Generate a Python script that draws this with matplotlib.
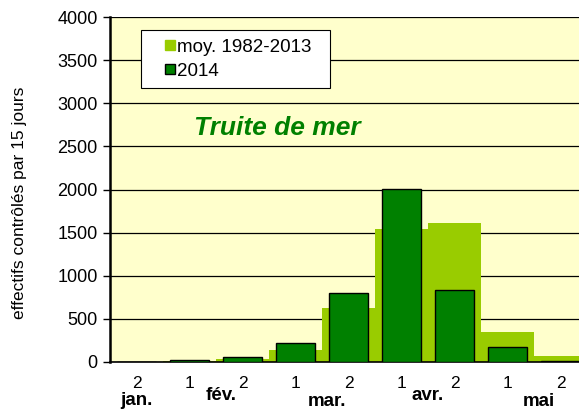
import matplotlib.pyplot as plt
from matplotlib.lines import Line2D
from matplotlib.transforms import blended_transform_factory

plt.rcParams['font.family'] = ['Liberation Sans', 'DejaVu Sans']

halves = ["2", "1", "2", "1", "2", "1", "2", "1", "2"]
months = ["jan.", "fév.", "mar.", "avr.", "mai"]
month_pos = [0, 1.6, 3.6, 5.5, 7.6]
month_dy = [0, 0.012, -0.003, 0.014, -0.003]
moyenne = [5, 12, 30, 140, 625, 1545, 1610, 350, 70]
annee_2014 = [5, 20, 60, 215, 800, 2010, 830, 175, 8]

x = list(range(len(halves)))

fig = plt.figure(figsize=(5.79, 4.09), dpi=100)
ax = fig.add_axes([0.19, 0.115, 0.81, 0.843])
ax.set_facecolor('#FFFFCC')

ax.bar(x, moyenne, width=1.0, color='#99CC00', zorder=2)
ax.bar(x, annee_2014, width=0.72, color='#008000', edgecolor='black',
       linewidth=1, zorder=3)

ax.set_xlim(-0.5, 8.35)
ax.set_ylim(0, 4000)
ax.set_yticks(range(0, 4001, 500))
ax.yaxis.grid(True, color='black', linewidth=0.9, zorder=1)
ax.set_axisbelow(True)
ax.tick_params(axis='y', labelsize=13, length=5, width=1, pad=4)
ax.set_xticks([])
for s in ['top', 'right']:
    ax.spines[s].set_visible(False)
ax.spines['left'].set_linewidth(1.8)
ax.spines['bottom'].set_linewidth(1.2)

trans = blended_transform_factory(ax.transData, ax.transAxes)
for i, h in enumerate(halves):
    ax.text(i, -0.04, h, transform=trans, ha='center', va='top', fontsize=12.5)
for m, p, dy in zip(months, month_pos, month_dy):
    ax.text(p, -0.086 + dy, m, transform=trans, ha='center', va='top',
            fontsize=13.5, fontweight='bold')

fig.text(0.034, 0.505, "effectifs contrôlés par 15 jours", rotation=90,
         ha='center', va='center', fontsize=12.5)

ax.text(0.356, 0.678, "Truite de mer", transform=ax.transAxes, ha='center',
        va='center', fontsize=19, fontweight='bold', fontstyle='italic',
        color='#008000')

handles = [Line2D([], [], linestyle='none', marker='s', markersize=7,
                  markerfacecolor='#99CC00', markeredgecolor='#99CC00',
                  label='moy. 1982-2013  '),
           Line2D([], [], linestyle='none', marker='s', markersize=7,
                  markerfacecolor='#008000', markeredgecolor='black',
                  label='2014')]
leg = ax.legend(handles=handles, loc='upper left', bbox_to_anchor=(0.066, 0.962),
                fontsize=13.5, handlelength=2.2, handletextpad=-0.75,
                borderpad=0.45, labelspacing=0.35, fancybox=False, framealpha=1,
                edgecolor='black', borderaxespad=0)
leg.get_frame().set_linewidth(0.8)

fig.savefig("out.png", dpi=100)
